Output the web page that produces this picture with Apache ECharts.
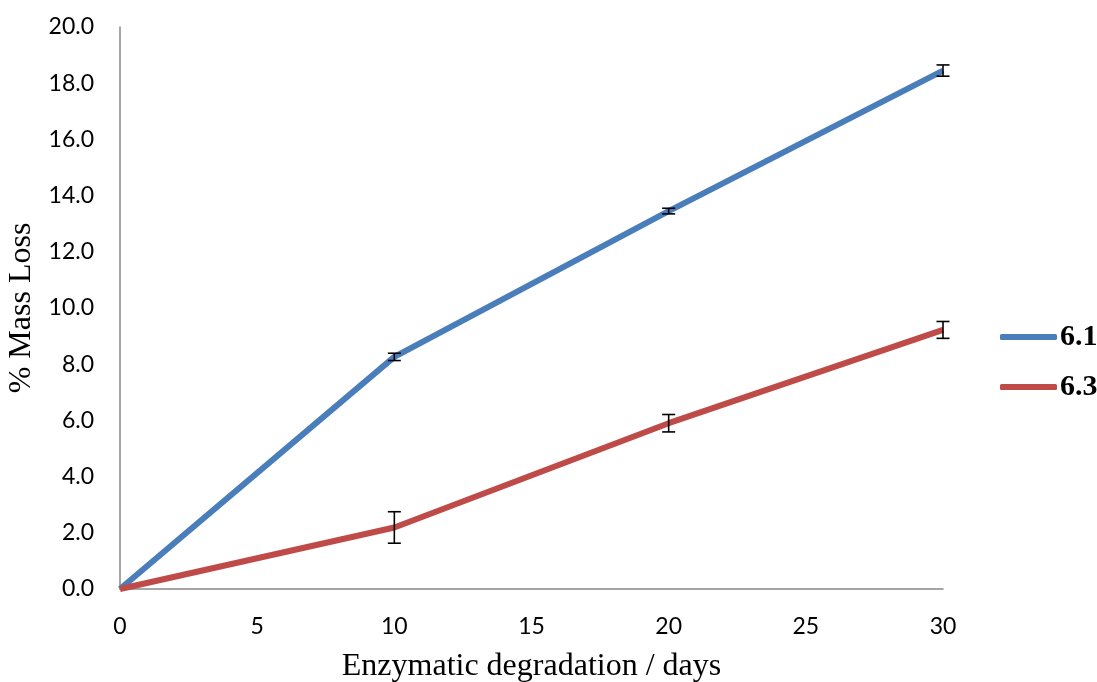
<!DOCTYPE html>
<html><head><meta charset="utf-8">
<script src="https://cdn.jsdelivr.net/npm/echarts@6/dist/echarts.min.js"></script>
<style>html,body{margin:0;padding:0;background:#fff}#c{width:1097px;height:682px}</style>
</head><body><div id="c"></div>
<script>
const days = [0, 10, 20, 30];
const s61 = [0, 8.26, 13.45, 18.45];
const s61err = [0, 0.13, 0.1, 0.2];
const s63 = [0, 2.19, 5.9, 9.22];
const s63err = [0, 0.56, 0.31, 0.3];
const seriesNames = ['6.1', '6.3'];
const colors = ['#4a7ebb', '#be4b48'];

function pairs(x, y) { return x.map((v, i) => [v, y[i]]); }
function errData(x, y, e) { return x.map((v, i) => [v, y[i] - e[i], y[i] + e[i]]).filter((d, i) => e[i] > 0); }

function errRender(params, api) {
  const x = api.value(0), lo = api.value(1), hi = api.value(2);
  const p1 = api.coord([x, hi]), p2 = api.coord([x, lo]);
  const w = 6.5;
  const st = { stroke: '#000', lineWidth: 1.6 };
  return { type: 'group', children: [
    { type: 'line', shape: { x1: p1[0], y1: p1[1], x2: p2[0], y2: p2[1] }, style: st },
    { type: 'line', shape: { x1: p1[0] - w, y1: p1[1], x2: p1[0] + w, y2: p1[1] }, style: st },
    { type: 'line', shape: { x1: p2[0] - w, y1: p2[1], x2: p2[0] + w, y2: p2[1] }, style: st }
  ]};
}

const chart = echarts.init(document.getElementById('c'));
chart.setOption({
  animation: false,
  grid: { left: 120, right: 154, top: 27, bottom: 93, outerBoundsMode: 'none', containLabel: false },
  legend: {
    orient: 'vertical', left: 995, top: 317, itemGap: 20,
    itemWidth: 57, itemHeight: 6, icon: 'roundRect',
    textStyle: { fontFamily: 'Liberation Serif', fontWeight: 'bold', fontSize: 30, lineHeight: 30, color: '#000', padding: [0, 0, 0, -2] },
    data: seriesNames
  },
  xAxis: {
    type: 'value', min: 0, max: 30, interval: 5,
    axisLine: { lineStyle: { color: '#888', width: 1.5 } },
    axisTick: { show: false }, splitLine: { show: false },
    axisLabel: { fontFamily: 'Lato', fontSize: 23, color: '#000', margin: 26 },
    name: 'Enzymatic degradation / days', nameLocation: 'middle', nameGap: 62,
    nameTextStyle: { fontFamily: 'Liberation Serif', fontSize: 32, color: '#000' }
  },
  yAxis: {
    type: 'value', min: 0, max: 20, interval: 2,
    axisLine: { show: true, lineStyle: { color: '#888', width: 1.5 } },
    axisTick: { show: false }, splitLine: { show: false },
    axisLabel: { fontFamily: 'Lato', fontSize: 23, color: '#000', margin: 26, formatter: v => v.toFixed(1) },
    name: '% Mass Loss', nameLocation: 'middle', nameGap: 82, nameRotate: 90,
    nameTextStyle: { fontFamily: 'Liberation Serif', fontSize: 32, color: '#000' }
  },
  series: [
    { name: seriesNames[0], type: 'line', data: pairs(days, s61), showSymbol: false, symbol: 'none',
      lineStyle: { color: colors[0], width: 6 }, itemStyle: { color: colors[0] } },
    { name: seriesNames[1], type: 'line', data: pairs(days, s63), showSymbol: false, symbol: 'none',
      lineStyle: { color: colors[1], width: 6 }, itemStyle: { color: colors[1] } },
    { type: 'custom', renderItem: errRender, data: errData(days, s61, s61err), z: 5 },
    { type: 'custom', renderItem: errRender, data: errData(days, s63, s63err), z: 5 }
  ]
});
</script></body></html>
